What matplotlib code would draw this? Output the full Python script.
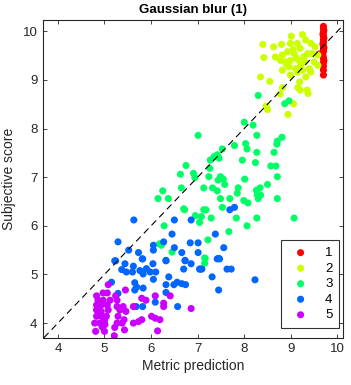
import matplotlib
matplotlib.use('Agg')
import matplotlib.pyplot as plt

plt.rcParams['font.family'] = ['Liberation Sans', 'DejaVu Sans']

# class 1 (red)
x1 = [9.70, 9.70, 9.71, 9.70, 9.69, 9.70, 9.71, 9.70, 9.70, 9.69, 9.70, 9.71,
      9.70, 9.70, 9.69, 9.70, 9.71, 9.70, 9.70, 9.70, 9.60, 9.63, 9.66, 9.70]
y1 = [10.10, 10.06, 10.02, 9.98, 9.94, 9.90, 9.86, 9.82, 9.78, 9.74, 9.70, 9.66,
      9.62, 9.58, 9.50, 9.45, 9.40, 9.35, 9.28, 9.20, 9.53, 9.52, 9.54, 9.10]
# class 2 (yellow-green)
x2 = [8.40, 8.42, 8.35, 8.55, 8.63, 8.80, 9.01, 9.25, 9.32, 8.99, 9.14, 9.43,
      9.52, 8.67, 8.82, 8.93, 9.07, 9.36, 9.46, 9.58, 8.78, 8.89, 8.99, 9.17,
      9.30, 9.50, 8.82, 8.96, 9.10, 9.25, 9.40, 8.99, 9.14, 9.32, 9.43, 9.19,
      9.15, 9.20, 9.35, 9.37, 8.82, 8.77, 8.47, 8.50, 9.06, 8.94, 9.21, 9.58,
      9.05, 9.20, 8.90, 9.28, 9.12]
y2 = [9.73, 9.46, 9.06, 8.97, 9.68, 9.73, 9.90, 9.93, 9.82, 9.75, 9.75, 9.75,
      9.68, 9.47, 9.51, 9.58, 9.54, 9.54, 9.54, 9.51, 9.40, 9.37, 9.40, 9.40,
      9.37, 9.37, 9.20, 9.27, 9.23, 9.20, 9.23, 9.10, 9.16, 9.06, 9.16, 8.96,
      8.84, 8.79, 8.79, 8.72, 8.84, 8.71, 8.46, 8.39, 8.51, 8.29, 9.30, 9.30,
      9.62, 9.65, 9.33, 9.48, 9.45]
# class 3 (green)
x3 = [8.30, 8.19, 8.00, 8.87, 8.96, 7.01, 8.27, 8.81, 8.71, 8.70, 8.03, 8.06,
      7.79, 7.53, 8.27, 8.64, 7.42, 7.35, 7.27, 7.46, 7.96, 8.24, 8.57, 8.68,
      6.75, 7.26, 6.63, 6.91, 6.94, 7.24, 7.49, 7.55, 7.44, 8.71, 8.01, 6.65,
      7.13, 7.32, 7.42, 7.58, 7.87, 7.85, 8.26, 8.34, 8.50, 8.28, 8.35, 8.30,
      7.99, 8.08, 7.49, 7.69, 8.71, 6.25, 6.15, 6.37, 6.72, 7.53, 7.13, 7.18,
      6.95, 7.08, 7.04, 7.29, 7.83, 8.27, 9.07, 6.28, 8.06, 7.67, 7.22, 6.22,
      7.16, 7.15, 7.15, 6.18, 6.45, 6.70]
y3 = [8.68, 8.07, 8.13, 8.51, 8.57, 7.86, 7.86, 7.82, 7.74, 7.68, 7.69, 7.58,
      7.65, 7.58, 7.51, 7.51, 7.46, 7.42, 7.35, 7.39, 7.35, 7.30, 7.23, 7.23,
      7.24, 7.18, 7.06, 7.08, 6.99, 7.01, 7.01, 6.96, 6.94, 7.01, 6.96, 6.78,
      6.78, 6.78, 6.72, 6.85, 6.78, 6.67, 6.73, 6.78, 6.85, 6.63, 6.63, 6.56,
      6.52, 6.47, 6.56, 6.56, 6.56, 6.72, 6.56, 6.56, 6.33, 6.38, 6.33, 6.33,
      6.21, 6.19, 6.07, 6.16, 6.16, 6.16, 6.16, 6.00, 6.00, 5.88, 5.71, 5.60,
      5.33, 5.34, 5.23, 5.63, 5.46, 6.35]
# class 4 (blue)
x4 = [5.63, 6.50, 6.86, 5.29, 5.52, 5.73, 6.05, 6.05, 6.27, 6.45, 6.50, 6.66,
      6.84, 7.01, 7.01, 7.38, 7.56, 7.69, 7.79, 5.22, 5.81, 6.32, 6.73, 7.42,
      7.47, 5.24, 5.44, 5.37, 5.47, 5.62, 5.60, 5.76, 5.82, 5.90, 5.98, 5.83,
      6.04, 6.10, 6.32, 6.05, 6.38, 6.32, 6.49, 6.56, 6.66, 6.74, 6.70, 6.86,
      6.73, 7.04, 7.06, 7.09, 7.31, 7.45, 7.63, 7.72, 8.23, 7.45, 6.32, 6.09,
      6.57, 5.65, 5.69, 5.83, 5.65, 5.15, 5.29, 5.82, 5.68]
y4 = [6.12, 6.12, 6.12, 5.67, 5.50, 5.45, 5.60, 5.50, 5.67, 5.83, 5.55, 5.45,
      5.65, 5.65, 5.45, 5.83, 5.55, 6.33, 6.38, 5.28, 5.32, 5.29, 5.29, 5.32,
      5.32, 5.28, 5.22, 5.10, 5.05, 5.17, 5.05, 5.08, 5.32, 5.12, 5.05, 5.01,
      5.22, 5.05, 5.28, 4.90, 4.95, 4.79, 4.79, 4.84, 4.81, 4.79, 5.11, 5.22,
      5.28, 5.11, 5.11, 5.11, 4.95, 5.33, 5.11, 5.11, 4.89, 4.68, 4.63, 4.43,
      4.34, 4.83, 4.74, 4.72, 4.68, 4.84, 4.61, 4.34, 4.34]
# class 5 (magenta)
x5 = [5.08, 4.83, 4.97, 5.06, 5.45, 5.24, 5.27, 4.83, 4.93, 5.06, 4.83, 4.93,
      5.08, 4.83, 4.93, 5.04, 4.79, 4.90, 5.01, 4.81, 5.00, 5.21, 5.27, 5.40,
      5.33, 5.46, 5.29, 5.42, 5.27, 5.38, 5.43, 5.22, 5.62, 5.73, 5.80, 6.01,
      6.09, 6.19, 6.14, 5.80, 5.89, 6.09, 6.41, 6.27, 6.27, 6.86, 5.62, 5.12,
      4.86, 4.97, 4.88, 5.00, 4.95]
y5 = [4.79, 4.56, 4.62, 4.62, 4.68, 4.56, 4.47, 4.37, 4.37, 4.37, 4.27, 4.24,
      4.27, 4.14, 4.14, 4.14, 4.00, 4.00, 3.97, 3.83, 3.83, 3.74, 4.34, 4.34,
      4.27, 4.24, 4.14, 4.07, 4.00, 4.00, 3.86, 3.91, 4.00, 4.03, 4.07, 4.14,
      4.10, 4.07, 3.84, 4.51, 4.47, 4.56, 4.56, 4.41, 4.34, 4.30, 4.34, 4.47,
      4.47, 4.47, 4.20, 4.05, 3.92]

colors = [(1, 0, 0), (0.8, 1, 0), (0, 1, 0.4), (0, 0.4, 1), (0.8, 0, 1)]
labels = ['1', '2', '3', '4', '5']
xs = [x1, x2, x3, x4, x5]
ys = [y1, y2, y3, y4, y5]

fig = plt.figure(figsize=(3.51, 3.85), dpi=100)
ax = fig.add_axes([0.1225, 0.1229, 0.8547, 0.825])

for x, y, c, l in zip(xs, ys, colors, labels):
    ax.scatter(x, y, s=26, color=c, edgecolors='none', label=l, zorder=2)

# y = x reference line
ax.axline((4, 4), slope=1, color='k', ls=(0, (6, 4)), lw=0.8, zorder=3)

ax.set_xlim(3.68, 10.12)
ax.set_ylim(3.70, 10.23)
ax.set_xticks(range(4, 11))
ax.set_yticks(range(4, 11))
ax.tick_params(direction='in', length=3, width=0.6, top=True, right=True,
               labelsize=9.5, colors='#262626', pad=4)
for s in ax.spines.values():
    s.set_linewidth(0.8)
    s.set_color('#262626')

ax.set_title('Gaussian blur (1)', fontsize=9.5, fontweight='bold', pad=5)
ax.set_xlabel('Metric prediction', fontsize=10, color='#262626', labelpad=3)
ax.set_ylabel('Subjective score', fontsize=10, color='#262626', labelpad=5)

leg = ax.legend(loc='lower right', bbox_to_anchor=(0.987, 0.031), borderaxespad=0,
                fontsize=9.5, frameon=True, fancybox=False, edgecolor='k',
                handletextpad=0.9, labelspacing=0.25, borderpad=0.5,
                markerscale=1.0, scatterpoints=1, handlelength=1.9)
leg.get_frame().set_linewidth(0.8)

fig.savefig('out.png', dpi=100)
